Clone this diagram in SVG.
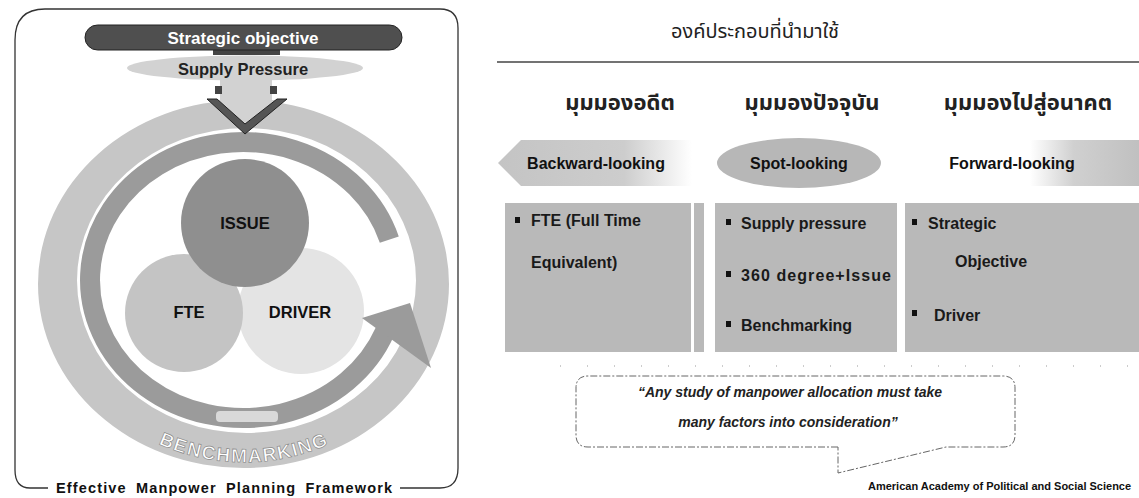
<svg xmlns="http://www.w3.org/2000/svg" width="1139" height="498" viewBox="0 0 1139 498">
<style>
.en{font-family:"Liberation Sans",Arial,sans-serif;font-weight:bold}
.th{font-family:"Noto Sans Thai","Loma","Garuda","DejaVu Sans","Noto Sans",sans-serif}
.lbl{font-size:16.5px;fill:#111;text-anchor:middle}
.box{fill:#b9b9b9}
.bt{font-size:16px;fill:#1a1a1a}
.head{font-size:22px;font-weight:bold;fill:#222;text-anchor:middle}
.look{font-size:16px;fill:#111;text-anchor:middle}
.q{font-family:"Liberation Sans",Arial,sans-serif;font-style:italic;font-weight:bold;font-size:14px;fill:#222;text-anchor:middle}
</style>
<defs>
<linearGradient id="fadeR" x1="0" y1="0" x2="1" y2="0">
<stop offset="0" stop-color="#c4c4c4"/><stop offset="0.65" stop-color="#cdcdcd"/><stop offset="1" stop-color="#ffffff"/>
</linearGradient>
<linearGradient id="fadeL" x1="0" y1="0" x2="1" y2="0">
<stop offset="0" stop-color="#ffffff"/><stop offset="0.4" stop-color="#d0d0d0"/><stop offset="1" stop-color="#c0c0c0"/>
</linearGradient>
<path id="benchArc" d="M131,429 A194,178 0 0 0 357,429"/>
</defs>

<g id="frame">
<path d="M48,488 L30,488 Q15,488 15,470 L15,40 Q15,9 45,9 L440,9 Q458,9 458,28 L458,468 Q458,488 440,488 L400,488" fill="none" stroke="#333" stroke-width="1.3"/>
<text class="en" x="224" y="493" font-size="14.5" text-anchor="middle" fill="#111" textLength="336" lengthAdjust="spacing" word-spacing="4">Effective Manpower Planning Framework</text>
</g>

<g id="outer-ring">
<path d="M38,284 A205.5,184 0 1 0 449,284 A205.5,184 0 1 0 38,284 Z M77,280.5 A169.5,152.5 0 1 0 416,280.5 A169.5,152.5 0 1 0 77,280.5 Z" fill="#c6c6c6" fill-rule="evenodd"/>
<text class="en" font-size="19" fill="#ffffff" stroke="#8a8a8a" stroke-width="0.7" letter-spacing="1.5"><textPath href="#benchArc" startOffset="50%" text-anchor="middle">BENCHMARKING</textPath></text>
</g>

<g id="venn">
<circle id="driver" cx="301" cy="311" r="63" fill="#e4e4e4"/>
<circle id="fte" cx="184" cy="313" r="59" fill="#c4c4c4"/>
<circle id="issue" cx="245" cy="223" r="64" fill="#8f8f8f"/>
<text class="en lbl" x="245" y="229">ISSUE</text>
<text class="en lbl" x="189" y="318">FTE</text>
<text class="en lbl" x="300" y="318">DRIVER</text>
</g>

<g id="cycle-arrow">
<path d="M389.3,239.6 A153,138 0 1 0 384.9,331.7" fill="none" stroke="#9b9b9b" stroke-width="20"/>
<polygon points="362,318 410,303 431,368" fill="#9b9b9b"/>
<rect x="216" y="411" width="62" height="11" rx="4" fill="#d9d9d9"/>
</g>

<g id="supply-arrow">
<rect x="220" y="80" width="52" height="22" fill="#d2d2d2"/>
<polygon points="212,100 245,128 281,100" fill="#d2d2d2"/>
<rect x="215" y="86" width="7" height="8" fill="#444"/>
<rect x="270" y="86" width="7" height="8" fill="#444"/>
<polygon points="207,99 245,134 287,99 277,99 245,124 217,99" fill="#555" stroke="#222" stroke-width="1"/>
</g>

<g id="strategic-objective">
<rect x="213" y="46" width="67" height="9" fill="#444"/>
<rect x="85" y="25" width="317" height="25" rx="12.5" fill="#4f4f4f" stroke="#222" stroke-width="1"/>
<text class="en" x="243" y="43.5" font-size="17" fill="#fff" text-anchor="middle">Strategic objective</text>
</g>

<g id="supply-pressure">
<ellipse cx="245" cy="68" rx="118" ry="12.5" fill="#d2d2d2"/>
<text class="en" x="243" y="75" font-size="16.5" fill="#222" text-anchor="middle">Supply Pressure</text>
</g>

<g id="title">
<text class="th" x="755" y="38" font-size="20" fill="#222" text-anchor="middle">องค์ประกอบที่นำมาใช้</text>
<line x1="497" y1="62" x2="1139" y2="62" stroke="#444" stroke-width="1.5"/>
</g>

<g id="col-backward">
<text class="th head" x="620" y="110">มุมมองอดีต</text>
<polygon points="498,163 521,140 692,140 692,186 521,186" fill="url(#fadeR)"/>
<text class="en look" x="596" y="169">Backward-looking</text>
<rect class="box" x="505" y="203" width="186" height="149"/>
<rect class="box" x="694" y="203" width="10" height="149"/>
<rect x="515" y="217" width="5" height="6" fill="#111"/>
<text class="en bt" x="531" y="226">FTE (Full Time</text>
<text class="en bt" x="531" y="268">Equivalent)</text>
</g>

<g id="col-spot">
<text class="th head" x="812" y="110">มุมมองปัจจุบัน</text>
<ellipse cx="799" cy="163" rx="82" ry="25" fill="#b7b7b7"/>
<text class="en look" x="799" y="169">Spot-looking</text>
<rect class="box" x="715" y="203" width="182" height="149"/>
<rect x="726" y="219" width="5" height="6" fill="#111"/>
<text class="en bt" x="741" y="229">Supply pressure</text>
<rect x="726" y="271" width="5" height="6" fill="#111"/>
<text class="en bt" x="741" y="281" textLength="150" lengthAdjust="spacing">360 degree+Issue</text>
<rect x="726" y="321" width="5" height="6" fill="#111"/>
<text class="en bt" x="741" y="331">Benchmarking</text>
</g>

<g id="col-forward">
<text class="th head" x="1028" y="110">มุมมองไปสู่อนาคต</text>
<rect x="1030" y="140" width="109" height="46" fill="url(#fadeL)"/>
<text class="en look" x="1012" y="169">Forward-looking</text>
<rect class="box" x="905" y="203" width="234" height="149"/>
<rect x="912" y="219" width="5" height="6" fill="#111"/>
<text class="en bt" x="928" y="229">Strategic</text>
<text class="en bt" x="955" y="267">Objective</text>
<rect x="912" y="310" width="5" height="6" fill="#111"/>
<text class="en bt" x="934" y="321">Driver</text>
</g>

<g id="connectors">
<line x1="560" y1="366" x2="1139" y2="366" stroke="#999" stroke-width="1" stroke-dasharray="1 26"/>
</g>

<g id="quote">
<path d="M838,447 L588,447 Q576,447 576,435 L576,388 Q576,376 588,376 L1003,376 Q1015,376 1015,388 L1015,435 Q1015,447 1003,447 L946,447 L838,473 L838,447" fill="none" stroke="#666" stroke-width="1" stroke-dasharray="7 2 2 2"/>
<text class="q" x="790" y="397">“Any study of manpower allocation must take</text>
<text class="q" x="788" y="427">many factors into consideration”</text>
</g>

<g id="source">
<text class="en" x="868" y="490" font-size="11" fill="#111">American Academy of Political and Social Science</text>
</g>
</svg>
